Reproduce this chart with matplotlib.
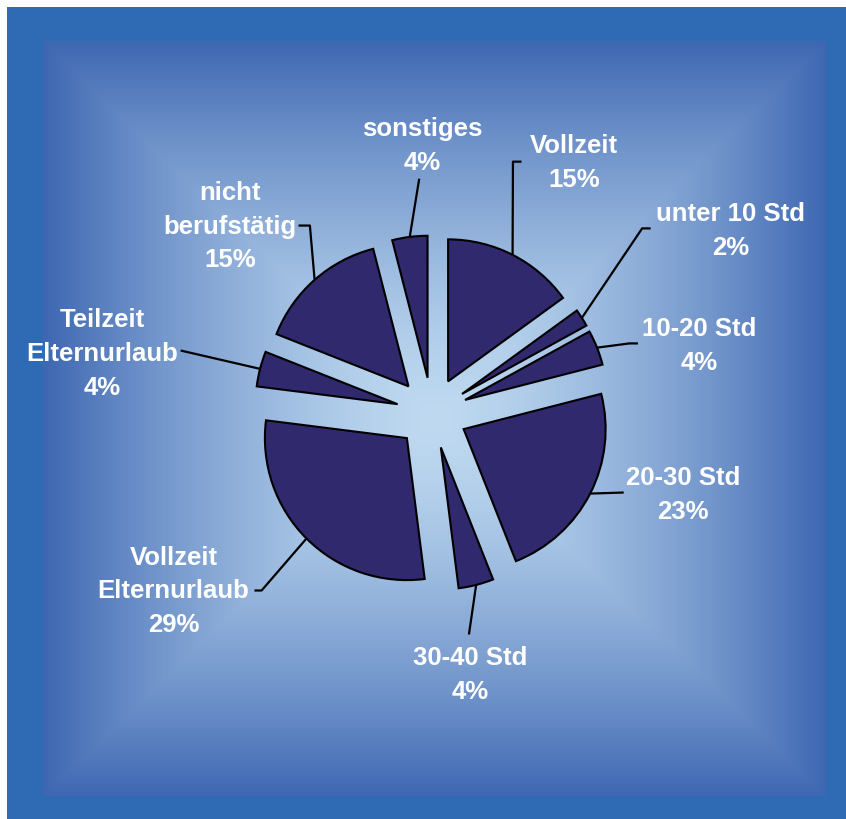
import numpy as np
import matplotlib
matplotlib.use("Agg")
import matplotlib.pyplot as plt

# Arbeitszeit nach der Geburt – Anteile in %
labels = ["Vollzeit", "unter 10 Std", "10-20 Std", "20-30 Std", "30-40 Std",
          "Vollzeit\nElternurlaub", "Teilzeit\nElternurlaub",
          "nicht\nberufstätig", "sonstiges"]
shares = [15, 2, 4, 23, 4, 29, 4, 15, 4]

# text block centres and leader line bends, in pie radius units
label_pos = [(1.00, 1.77), (2.10, 1.29), (1.88, 0.48), (1.77, -0.57), (0.27, -1.84),
             (-1.82, -1.25), (-2.32, 0.42), (-1.42, 1.32), (-0.07, 1.89)]
leader_bends = [[(0.57, 1.77), (0.63, 1.77)],
                [(1.48, 1.30), (1.54, 1.30)],
                [(1.39, 0.49), (1.45, 0.49)],
                [(1.35, -0.56)],
                [(0.26, -1.56)],
                [(-1.20, -1.25), (-1.25, -1.25)],
                [(-1.77, 0.44)],
                [(-0.86, 1.32), (-0.94, 1.32)],
                [(-0.09, 1.65)]]

W, H = 846, 820
explode_r = 0.25
R_PX = 142          # pie radius in pixels
CX, CY = 432, 414   # pie centre in pixels (from top)

plt.rcParams["font.family"] = ["Liberation Sans", "DejaVu Sans"]

# ---- background: dark blue frame with rectangular gradient inside ----
def hexrgb(h):
    h = h.lstrip("#")
    return np.array([int(h[i:i + 2], 16) for i in (0, 2, 4)]) / 255.0

bg = np.ones((H, W, 3))
bg[8:, 7:] = hexrgb("#2F6BB4")
x0, x1, y0, y1 = 43, 826, 42, 797
yy, xx = np.mgrid[y0:y1, x0:x1]
mx, my = (x0 + x1) / 2, (y0 + y1) / 2
t = np.maximum(np.abs(xx - mx) / ((x1 - x0) / 2), np.abs(yy - my) / ((y1 - y0) / 2))
t = t ** 1.5
c_in, c_out = hexrgb("#BED9F0"), hexrgb("#3E67B2")
bg[y0:y1, x0:x1] = c_in + (c_out - c_in) * t[..., None]

fig = plt.figure(figsize=(W / 100, H / 100), dpi=100)

bg_ax = fig.add_axes([0, 0, 1, 1], zorder=0)
bg_ax.imshow(bg, extent=(0, W, H, 0), interpolation="nearest", aspect="auto")
bg_ax.axis("off")

ax = fig.add_axes([0, 0, 1, 1], zorder=1)
ax.patch.set_visible(False)

wedges, _ = ax.pie(shares, startangle=90, counterclock=False,
                   explode=[explode_r] * len(shares),
                   colors=["#30296E"] * len(shares),
                   wedgeprops=dict(edgecolor="black", linewidth=1.5))

ax.set_xlim(-CX / R_PX, (W - CX) / R_PX)
ax.set_ylim(-(H - CY) / R_PX, CY / R_PX)
ax.axis("off")

for w, lab, val, pos, bends in zip(wedges, labels, shares, label_pos, leader_bends):
    mid = np.deg2rad((w.theta1 + w.theta2) / 2)
    ax_pt = ((1 + explode_r) * np.cos(mid), (1 + explode_r) * np.sin(mid))
    pts = [ax_pt] + bends
    ax.plot([p[0] for p in pts], [p[1] for p in pts], color="black", lw=1.6,
            solid_capstyle="butt", zorder=3)
    ax.text(pos[0], pos[1], f"{lab}\n{val}%", ha="center", va="center",
            color="white", fontsize=18.5, fontweight="bold", linespacing=1.52,
            zorder=4)

fig.savefig("out.png", dpi=100)
